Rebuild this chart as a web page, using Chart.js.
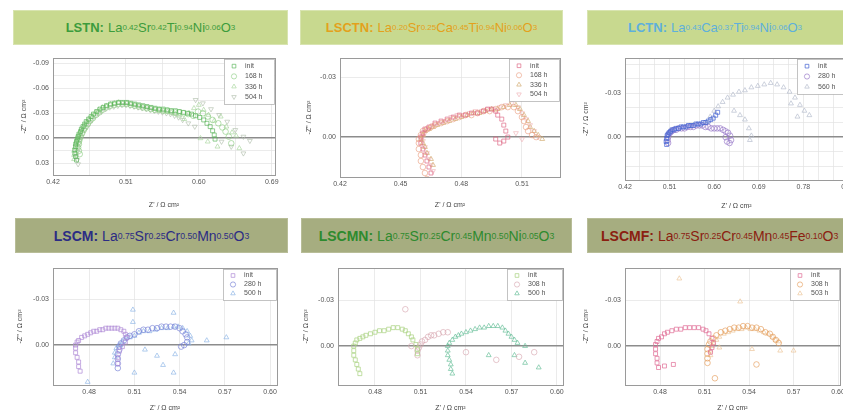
<!DOCTYPE html>
<html><head><meta charset="utf-8">
<script src="https://cdn.jsdelivr.net/npm/chart.js@4/dist/chart.umd.min.js"></script>
<style>
html,body{margin:0;padding:0;background:#fff;width:843px;height:412px;overflow:hidden;position:relative;font-family:"Liberation Sans",Arial,sans-serif;}
.hdr{position:absolute;display:flex;align-items:center;justify-content:center;white-space:nowrap;box-sizing:border-box;}
.top{background:#c8d98f;border:1px solid #d8e4b0;font-size:13px;}
.bot{background:#a6ad80;border:1px solid #b8bd98;font-size:14px;}
.hdr sub{font-size:62%;vertical-align:-0.35em;line-height:0;}
.hdr b{margin-right:4px;}
canvas{position:absolute;}
</style></head><body>
<div class="hdr top" style="left:13px;top:10px;width:275px;height:35px;color:#3c9c3c"><b>LSTN:</b>La<sub>0.42</sub>Sr<sub>0.42</sub>Ti<sub>0.94</sub>Ni<sub>0.06</sub>O<sub>3</sub></div>
<div class="hdr top" style="left:300px;top:10px;width:263px;height:35px;color:#e3a11c"><b>LSCTN:</b>La<sub>0.20</sub>Sr<sub>0.25</sub>Ca<sub>0.45</sub>Ti<sub>0.94</sub>Ni<sub>0.06</sub>O<sub>3</sub></div>
<div class="hdr top" style="left:587px;top:10px;width:270px;height:35px;color:#5eb0dc;justify-content:flex-start;padding-left:40px"><b>LCTN:</b>La<sub>0.43</sub>Ca<sub>0.37</sub>Ti<sub>0.94</sub>Ni<sub>0.06</sub>O<sub>3</sub></div>
<div class="hdr bot" style="left:15px;top:218px;width:273px;height:35px;color:#2c2c84"><b>LSCM:</b>La<sub>0.75</sub>Sr<sub>0.25</sub>Cr<sub>0.50</sub>Mn<sub>0.50</sub>O<sub>3</sub></div>
<div class="hdr bot" style="left:301px;top:218px;width:271px;height:35px;color:#2e8a2e"><b>LSCMN:</b>La<sub>0.75</sub>Sr<sub>0.25</sub>Cr<sub>0.45</sub>Mn<sub>0.50</sub>Ni<sub>0.05</sub>O<sub>3</sub></div>
<div class="hdr bot" style="left:587px;top:218px;width:270px;height:35px;color:#8b2010;justify-content:flex-start;padding-left:13px"><b>LSCMF:</b>La<sub>0.75</sub>Sr<sub>0.25</sub>Cr<sub>0.45</sub>Mn<sub>0.45</sub>Fe<sub>0.10</sub>O<sub>3</sub></div>
<canvas id="c1"></canvas><canvas id="c2"></canvas><canvas id="c3"></canvas>
<canvas id="c4"></canvas><canvas id="c5"></canvas><canvas id="c6"></canvas>
<script>
// ---------- DATA (Z' , Z'') in Ohm cm2 ----------
const lstnLabels = ['init','168 h','336 h','504 h'];
const lstnXTicks = ['0.42','0.51','0.60','0.69'];
const lstnYTicks = ['-0.09','-0.06','-0.03','0.00','0.03'];
const lstnInit = [[0.449,0.026],[0.448,0.022],[0.447,0.018],[0.447,0.014],[0.448,0.010],[0.448,0.007],[0.449,0.004],[0.450,0.001],[0.451,-0.002],[0.452,-0.005],[0.454,-0.008],[0.455,-0.011],[0.457,-0.014],[0.459,-0.017],[0.461,-0.020],[0.464,-0.023],[0.467,-0.026],[0.470,-0.029],[0.474,-0.032],[0.478,-0.035],[0.482,-0.037],[0.486,-0.039],[0.491,-0.041],[0.496,-0.042],[0.501,-0.043],[0.506,-0.043],[0.511,-0.043],[0.516,-0.042],[0.521,-0.041],[0.526,-0.040],[0.531,-0.039],[0.536,-0.038],[0.541,-0.037],[0.546,-0.036],[0.551,-0.035],[0.556,-0.035],[0.561,-0.034],[0.566,-0.033],[0.571,-0.033],[0.576,-0.032],[0.581,-0.031],[0.586,-0.030],[0.591,-0.029],[0.596,-0.027],[0.601,-0.025],[0.606,-0.022],[0.610,-0.018],[0.614,-0.014],[0.617,-0.009],[0.619,-0.004],[0.620,0.001]];
const lstn168 = [[0.453,0.019],[0.452,0.015],[0.451,0.011],[0.452,0.007],[0.452,0.004],[0.453,0.001],[0.454,-0.002],[0.456,-0.006],[0.458,-0.010],[0.460,-0.013],[0.463,-0.017],[0.466,-0.021],[0.469,-0.024],[0.473,-0.028],[0.477,-0.031],[0.481,-0.034],[0.486,-0.037],[0.491,-0.039],[0.496,-0.040],[0.501,-0.041],[0.506,-0.041],[0.511,-0.041],[0.516,-0.040],[0.521,-0.039],[0.526,-0.038],[0.531,-0.037],[0.536,-0.036],[0.541,-0.035],[0.546,-0.034],[0.551,-0.034],[0.556,-0.033],[0.561,-0.033],[0.566,-0.032],[0.571,-0.031],[0.576,-0.031],[0.581,-0.030],[0.587,-0.029],[0.593,-0.027],[0.599,-0.032],[0.605,-0.030],[0.611,-0.026],[0.617,-0.022],[0.624,-0.018],[0.629,-0.013],[0.633,-0.008],[0.637,-0.002],[0.640,0.006]];
const lstn336 = [[0.446,0.025],[0.446,0.020],[0.446,0.015],[0.447,0.011],[0.448,0.007],[0.449,0.003],[0.450,0.000],[0.451,-0.003],[0.453,-0.007],[0.455,-0.011],[0.458,-0.015],[0.461,-0.019],[0.464,-0.023],[0.468,-0.027],[0.472,-0.031],[0.476,-0.034],[0.481,-0.037],[0.486,-0.039],[0.491,-0.041],[0.496,-0.042],[0.501,-0.043],[0.506,-0.042],[0.511,-0.042],[0.516,-0.041],[0.521,-0.040],[0.526,-0.039],[0.531,-0.038],[0.536,-0.037],[0.541,-0.036],[0.546,-0.035],[0.551,-0.034],[0.556,-0.033],[0.561,-0.032],[0.566,-0.031],[0.571,-0.029],[0.576,-0.027],[0.582,-0.023],[0.588,-0.030],[0.594,-0.036],[0.600,-0.040],[0.606,-0.034],[0.612,-0.028],[0.619,-0.021],[0.627,-0.026],[0.634,-0.014],[0.641,-0.007],[0.646,-0.003],[0.650,0.012],[0.602,0.000],[0.611,0.004],[0.623,0.010]];
const lstn504 = [[0.451,0.031],[0.450,0.026],[0.449,0.021],[0.450,0.016],[0.451,0.011],[0.452,0.006],[0.453,0.002],[0.455,-0.002],[0.457,-0.006],[0.459,-0.010],[0.462,-0.014],[0.465,-0.018],[0.468,-0.022],[0.472,-0.026],[0.476,-0.029],[0.480,-0.032],[0.485,-0.035],[0.490,-0.037],[0.495,-0.038],[0.500,-0.039],[0.505,-0.040],[0.510,-0.040],[0.515,-0.039],[0.520,-0.038],[0.525,-0.037],[0.530,-0.036],[0.535,-0.035],[0.540,-0.034],[0.545,-0.033],[0.550,-0.032],[0.555,-0.031],[0.560,-0.030],[0.565,-0.029],[0.570,-0.027],[0.575,-0.025],[0.580,-0.022],[0.587,-0.018],[0.595,-0.014],[0.605,-0.042],[0.615,-0.035],[0.625,-0.028],[0.635,-0.020],[0.645,-0.010],[0.655,-0.002],[0.663,0.003],[0.640,0.010],[0.655,0.018],[0.628,0.004],[0.596,-0.046]];

const lsctnLabels = ['init','168 h','336 h','504 h'];
const lsctnXTicks = ['0.42','0.45','0.48','0.51'];
const lsctnYTicks = ['-0.03','0.00'];
const lsctnInit = [[0.465,0.018],[0.464,0.015],[0.463,0.012],[0.462,0.009],[0.461,0.006],[0.460,0.003],[0.460,0.000],[0.461,-0.002],[0.462,-0.004],[0.464,-0.005],[0.467,-0.007],[0.470,-0.008],[0.473,-0.009],[0.476,-0.010],[0.479,-0.011],[0.482,-0.011],[0.485,-0.012],[0.488,-0.012],[0.491,-0.013],[0.493,-0.014],[0.495,-0.014],[0.497,-0.013],[0.498,-0.011],[0.500,-0.009],[0.501,-0.006],[0.502,-0.003],[0.503,0.000],[0.501,0.002],[0.499,0.003],[0.497,0.001]];
const lsctn168 = [[0.463,0.021],[0.462,0.018],[0.461,0.015],[0.460,0.012],[0.460,0.009],[0.459,0.006],[0.459,0.003],[0.459,0.001],[0.460,-0.001],[0.461,-0.003],[0.463,-0.004],[0.465,-0.005],[0.467,-0.006],[0.470,-0.007],[0.473,-0.008],[0.476,-0.009],[0.479,-0.010],[0.482,-0.011],[0.485,-0.011],[0.488,-0.012],[0.491,-0.013],[0.494,-0.013],[0.497,-0.014],[0.500,-0.015],[0.503,-0.015],[0.506,-0.015],[0.508,-0.013],[0.510,-0.010],[0.511,-0.008],[0.512,-0.005],[0.513,-0.003],[0.515,-0.001],[0.517,0.000]];
const lsctn336 = [[0.466,0.014],[0.465,0.011],[0.463,0.008],[0.462,0.005],[0.461,0.003],[0.460,0.001],[0.461,-0.001],[0.462,-0.003],[0.464,-0.004],[0.466,-0.005],[0.468,-0.006],[0.471,-0.007],[0.474,-0.008],[0.477,-0.009],[0.480,-0.010],[0.483,-0.011],[0.486,-0.012],[0.489,-0.012],[0.492,-0.013],[0.495,-0.014],[0.498,-0.014],[0.501,-0.015],[0.504,-0.016],[0.507,-0.016],[0.509,-0.014],[0.511,-0.011],[0.513,-0.008],[0.514,-0.005],[0.516,-0.003],[0.518,-0.001],[0.520,0.001]];
const lsctn504 = [[0.467,0.021],[0.466,0.017],[0.465,0.014],[0.464,0.011],[0.463,0.008],[0.462,0.005],[0.461,0.002],[0.461,0.000],[0.462,-0.002],[0.464,-0.004],[0.466,-0.006],[0.469,-0.007],[0.472,-0.008],[0.475,-0.010],[0.478,-0.011],[0.481,-0.011],[0.484,-0.012],[0.487,-0.013],[0.490,-0.013],[0.493,-0.014],[0.496,-0.014],[0.499,-0.015],[0.502,-0.016],[0.505,-0.017],[0.508,-0.015],[0.510,-0.012],[0.512,-0.009],[0.514,-0.006],[0.516,-0.003],[0.518,0.000],[0.510,0.001],[0.507,-0.002]];

const lctnLabels = ['init','280 h','560 h'];
const lctnXTicks = ['0.42','0.51','0.60','0.69','0.78','0.87'];
const lctnYTicks = ['-0.03','0.00'];
const lctnInit = [[0.504,0.005],[0.503,0.003],[0.504,0.001],[0.505,-0.001],[0.507,-0.002],[0.509,-0.003],[0.512,-0.004],[0.515,-0.005],[0.519,-0.005],[0.523,-0.006],[0.528,-0.006],[0.533,-0.007],[0.538,-0.007],[0.543,-0.007],[0.548,-0.008],[0.553,-0.008],[0.558,-0.008],[0.563,-0.009],[0.568,-0.009],[0.573,-0.009],[0.578,-0.010],[0.583,-0.010],[0.588,-0.011],[0.593,-0.012],[0.598,-0.013],[0.603,-0.015],[0.607,-0.017]];
const lctn280 = [[0.507,0.004],[0.506,0.002],[0.507,0.000],[0.508,-0.002],[0.511,-0.003],[0.514,-0.004],[0.518,-0.005],[0.523,-0.005],[0.528,-0.006],[0.534,-0.006],[0.540,-0.006],[0.546,-0.007],[0.552,-0.007],[0.558,-0.007],[0.564,-0.008],[0.570,-0.008],[0.576,-0.008],[0.582,-0.007],[0.588,-0.007],[0.594,-0.006],[0.600,-0.006],[0.606,-0.006],[0.612,-0.006],[0.618,-0.005],[0.623,-0.004],[0.628,-0.003],[0.632,-0.001],[0.634,0.002],[0.631,0.004],[0.626,0.003],[0.623,0.000]];
const lctn560 = [[0.585,-0.010],[0.592,-0.014],[0.600,-0.018],[0.608,-0.021],[0.617,-0.024],[0.627,-0.027],[0.638,-0.029],[0.650,-0.031],[0.662,-0.032],[0.675,-0.034],[0.688,-0.035],[0.701,-0.036],[0.714,-0.037],[0.727,-0.036],[0.740,-0.034],[0.752,-0.031],[0.763,-0.027],[0.773,-0.022],[0.782,-0.018],[0.792,-0.015],[0.640,-0.018],[0.652,-0.015],[0.662,-0.012],[0.670,-0.006],[0.675,-0.001],[0.672,0.002],[0.755,-0.023],[0.768,-0.014]];

const lscmLabels = ['init','280 h','500 h'];
const lscmXTicks = ['0.48','0.51','0.54','0.57','0.60'];
const lscmYTicks = ['-0.03','0.00'];
const lscmInit = [[0.474,0.017],[0.473,0.014],[0.473,0.011],[0.472,0.008],[0.471,0.005],[0.471,0.002],[0.471,0.000],[0.472,-0.002],[0.473,-0.003],[0.475,-0.005],[0.477,-0.006],[0.479,-0.007],[0.481,-0.008],[0.483,-0.009],[0.485,-0.009],[0.487,-0.010],[0.489,-0.010],[0.491,-0.011],[0.493,-0.011],[0.495,-0.011],[0.497,-0.011],[0.499,-0.011],[0.501,-0.010],[0.503,-0.009],[0.504,-0.007],[0.505,-0.005],[0.504,-0.002],[0.502,0.001],[0.500,0.004],[0.499,0.008],[0.499,0.012]];
const lscm280 = [[0.499,0.015],[0.499,0.012],[0.499,0.009],[0.499,0.006],[0.500,0.003],[0.500,0.001],[0.501,-0.001],[0.503,-0.003],[0.505,-0.005],[0.507,-0.006],[0.510,-0.007],[0.513,-0.009],[0.516,-0.010],[0.519,-0.010],[0.522,-0.011],[0.525,-0.011],[0.528,-0.012],[0.531,-0.012],[0.534,-0.012],[0.537,-0.012],[0.540,-0.011],[0.542,-0.009],[0.544,-0.007],[0.545,-0.005],[0.545,-0.002],[0.543,0.000],[0.541,0.001]];
const lscm500 = [[0.496,0.012],[0.497,0.008],[0.497,0.005],[0.498,0.002],[0.500,0.000],[0.502,-0.002],[0.504,-0.004],[0.507,-0.005],[0.510,-0.006],[0.513,-0.008],[0.516,-0.009],[0.520,-0.009],[0.524,-0.010],[0.528,-0.011],[0.532,-0.011],[0.536,-0.012],[0.539,-0.012],[0.542,-0.011],[0.545,-0.009],[0.547,-0.006],[0.548,-0.003],[0.546,-0.001],[0.509,-0.023],[0.509,-0.015],[0.536,-0.021],[0.571,-0.005],[0.558,-0.003],[0.525,0.007],[0.529,0.013],[0.536,0.018],[0.510,0.018],[0.479,0.024],[0.517,0.003],[0.537,0.006]];

const lscmnLabels = ['init','308 h','500 h'];
const lscmnXTicks = ['0.48','0.51','0.54','0.57','0.60'];
const lscmnYTicks = ['-0.03','0.00'];
const lscmnInit = [[0.470,0.018],[0.469,0.015],[0.468,0.012],[0.467,0.009],[0.466,0.006],[0.466,0.003],[0.466,0.000],[0.467,-0.002],[0.468,-0.004],[0.470,-0.005],[0.472,-0.006],[0.474,-0.007],[0.477,-0.008],[0.480,-0.009],[0.483,-0.010],[0.486,-0.010],[0.489,-0.011],[0.492,-0.012],[0.495,-0.012],[0.498,-0.011],[0.500,-0.010],[0.502,-0.008],[0.504,-0.006],[0.505,-0.004],[0.507,-0.001],[0.508,0.002],[0.508,0.005]];
const lscmn308 = [[0.508,0.006],[0.508,0.003],[0.509,0.001],[0.510,-0.001],[0.511,-0.003],[0.513,-0.004],[0.515,-0.006],[0.517,-0.007],[0.519,-0.007],[0.522,-0.008],[0.525,-0.009],[0.528,-0.009],[0.500,-0.024],[0.504,0.000],[0.540,0.004],[0.560,0.009],[0.575,0.007],[0.585,0.004]];
const lscmn500 = [[0.531,0.018],[0.530,0.015],[0.530,0.012],[0.529,0.009],[0.528,0.006],[0.528,0.003],[0.528,0.000],[0.529,-0.002],[0.531,-0.004],[0.533,-0.006],[0.535,-0.007],[0.537,-0.008],[0.540,-0.009],[0.543,-0.010],[0.546,-0.011],[0.549,-0.012],[0.552,-0.012],[0.555,-0.013],[0.558,-0.013],[0.561,-0.013],[0.564,-0.012],[0.566,-0.010],[0.568,-0.008],[0.570,-0.006],[0.572,-0.004],[0.574,-0.002],[0.555,0.006],[0.572,0.006],[0.579,0.011],[0.588,0.014],[0.579,0.000]];

const lscmfLabels = ['init','308 h','503 h'];
const lscmfXTicks = ['0.48','0.51','0.54','0.57','0.60'];
const lscmfYTicks = ['-0.03','0.00'];
const lscmfInit = [[0.479,0.014],[0.478,0.011],[0.478,0.008],[0.477,0.005],[0.477,0.002],[0.477,-0.001],[0.478,-0.003],[0.479,-0.005],[0.481,-0.006],[0.483,-0.008],[0.485,-0.009],[0.488,-0.010],[0.491,-0.011],[0.494,-0.011],[0.497,-0.012],[0.500,-0.012],[0.503,-0.012],[0.506,-0.012],[0.509,-0.011],[0.511,-0.010],[0.513,-0.008],[0.515,-0.005],[0.516,-0.002],[0.515,0.001],[0.514,0.004],[0.489,0.012],[0.483,0.013]];
const lscmf308 = [[0.512,0.011],[0.512,0.008],[0.512,0.005],[0.512,0.002],[0.513,-0.001],[0.514,-0.003],[0.516,-0.005],[0.518,-0.007],[0.521,-0.009],[0.524,-0.010],[0.527,-0.011],[0.530,-0.012],[0.533,-0.012],[0.536,-0.013],[0.539,-0.013],[0.542,-0.012],[0.545,-0.012],[0.548,-0.011],[0.551,-0.009],[0.554,-0.008],[0.556,-0.006],[0.558,-0.004],[0.560,-0.002],[0.517,0.021],[0.545,0.012]];
const lscmf503 = [[0.514,0.006],[0.514,0.003],[0.515,0.000],[0.516,-0.002],[0.518,-0.004],[0.520,-0.006],[0.523,-0.008],[0.526,-0.009],[0.529,-0.010],[0.532,-0.011],[0.535,-0.011],[0.538,-0.012],[0.541,-0.011],[0.544,-0.011],[0.547,-0.010],[0.550,-0.009],[0.553,-0.008],[0.556,-0.006],[0.558,-0.004],[0.560,-0.003],[0.493,-0.044],[0.534,-0.029],[0.520,0.001],[0.570,0.003],[0.542,0.002],[0.561,0.003]];

// ---------- STYLES / LAYOUT ----------
const shapes = [{s:'rect',r:0},{s:'circle',r:0},{s:'triangle',r:0},{s:'triangle',r:180}];
const FONT = '"Liberation Sans", Arial, sans-serif';
const panels = [
 {id:'c1', canvas:[0,50,285,160], plot:[53,58,275,175], xr:[0.42,0.694], yr:[-0.096,0.044], xT:lstnXTicks, xSub:2, yT:lstnYTicks, ySub:2, yTitlePad:20, xTitlePad:1,
  series:[lstnInit,lstn168,lstn336,lstn504], labels:lstnLabels, colors:['rgba(90,180,90,0.75)','rgba(140,205,130,0.7)','rgba(170,215,160,0.75)','rgba(175,190,170,0.7)'], lg:[50,45]},
 {id:'c2', canvas:[285,50,285,160], plot:[340,58,560,177], xr:[0.42,0.5288], yr:[-0.0395,0.02], xT:lsctnXTicks, xSub:1, yT:lsctnYTicks, ySub:1, yTitlePad:20, xTitlePad:1,
  series:[lsctnInit,lsctn168,lsctn336,lsctn504], labels:lsctnLabels, colors:['rgba(220,100,130,0.75)','rgba(235,160,130,0.7)','rgba(210,170,110,0.75)','rgba(240,180,185,0.75)'], lg:[50,42]},
 {id:'c3', canvas:[560,50,300,160], plot:[625,58,848,180], xr:[0.42,0.87], yr:[-0.054,0.0293], xT:lctnXTicks, xSub:3, yT:lctnYTicks, ySub:3, yTitlePad:22, xTitlePad:0,
  series:[lctnInit,lctn280,lctn560], labels:lctnLabels, colors:['rgba(70,100,210,0.8)','rgba(150,120,200,0.75)','rgba(180,188,205,0.75)'], lg:[50,35]},
 {id:'c4', canvas:[0,258,285,154], plot:[53,268,277,385], xr:[0.456,0.6046], yr:[-0.0502,0.026], xT:lscmXTicks, xSub:1, yT:lscmYTicks, ySub:1, yTitlePad:16, xTitlePad:0,
  series:[lscmInit,lscm280,lscm500], labels:lscmLabels, colors:['rgba(175,140,215,0.8)','rgba(120,130,215,0.75)','rgba(140,180,230,0.75)'], lg:[53,31]},
 {id:'c5', canvas:[285,258,285,154], plot:[338,268,563,385], xr:[0.4556,0.604], yr:[-0.0509,0.0254], xT:lscmnXTicks, xSub:1, yT:lscmnYTicks, ySub:1, yTitlePad:17, xTitlePad:0,
  series:[lscmnInit,lscmn308,lscmn500], labels:lscmnLabels, colors:['rgba(170,210,130,0.8)','rgba(215,165,175,0.7)','rgba(100,190,150,0.75)'], lg:[55,31]},
 {id:'c6', canvas:[560,258,300,154], plot:[625,268,840,385], xr:[0.4564,0.6013], yr:[-0.0509,0.0254], xT:lscmfXTicks, xSub:1, yT:lscmfYTicks, ySub:1, yTitlePad:22, xTitlePad:0,
  series:[lscmfInit,lscmf308,lscmf503], labels:lscmfLabels, colors:['rgba(225,110,150,0.8)','rgba(230,160,95,0.75)','rgba(235,195,150,0.75)'], lg:[49,31]}
];

function gridVals(labels, sub, lo, hi){
  const nums = labels.map(Number);
  const step = (nums[1]-nums[0])/sub;
  const out = [];
  for (let v = nums[0]; v >= lo - 1e-9; v -= step) out.push(v);
  for (let v = nums[0]+step; v <= hi + 1e-9; v += step) out.push(v);
  return out.sort((a,b)=>a-b);
}
function labelFor(labels, v){
  for (const l of labels) if (Math.abs(Number(l)-v) < 1e-7) return l;
  return '';
}

const frame = {
  id:'frame',
  afterDatasetsDraw(chart){
    const {ctx, chartArea:a} = chart;
    ctx.save(); ctx.strokeStyle='#9a9a9a'; ctx.lineWidth=1;
    ctx.strokeRect(Math.round(a.left)+0.5, Math.round(a.top)+0.5, Math.round(a.right-a.left), Math.round(a.bottom-a.top));
    ctx.restore();
  }
};
const innerLegend = {
  id:'innerLegend',
  afterDraw(chart, args, opts){
    const {ctx, chartArea:a} = chart;
    const ds = chart.data.datasets;
    const w = opts.w, h = opts.h;
    const x0 = Math.round(a.right - w - 1), y0 = Math.round(a.top + 1);
    ctx.save();
    ctx.fillStyle='#fff'; ctx.fillRect(x0,y0,w,h);
    ctx.strokeStyle='#b5b5b5'; ctx.lineWidth=0.8; ctx.strokeRect(x0+0.5,y0+0.5,w,h);
    const step = (h-4)/ds.length;
    ds.forEach((d,i)=>{
      const cy = y0 + 2 + step*(i+0.5);
      ctx.strokeStyle = d.borderColor; ctx.fillStyle='rgba(0,0,0,0)'; ctx.lineWidth = 0.9;
      Chart.helpers.drawPoint(ctx, {pointStyle:d.pointStyle, radius:2.6, borderWidth:0.9, rotation:d.rotation||0}, x0+10, cy);
      ctx.fillStyle='#555'; ctx.font='7px '+FONT; ctx.textBaseline='middle'; ctx.textAlign='left';
      ctx.fillText(d.label, x0+21, cy);
    });
    ctx.restore();
  }
};

panels.forEach(p=>{
  const cv = document.getElementById(p.id);
  const [cx,cy,cw,ch] = p.canvas;
  cv.width = cw; cv.height = ch;
  cv.style.left = cx+'px'; cv.style.top = cy+'px'; cv.style.width = cw+'px'; cv.style.height = ch+'px';
  const [px0,py0,px1,py1] = p.plot;
  const yW = px0 - cx, xH = cy + ch - py1;
  const xg = gridVals(p.xT, p.xSub, p.xr[0], p.xr[1]);
  const yg = gridVals(p.yT, p.ySub, p.yr[0], p.yr[1]);
  const gridColor = c => (c.tick && Math.abs(c.tick.value) < 1e-9) ? '#8c8c8c' : '#e3e3e3';
  new Chart(cv, {
    type:'scatter',
    data:{datasets: p.series.map((s,i)=>({
      label:p.labels[i],
      data:s.map(d=>({x:d[0],y:d[1]})),
      pointStyle:shapes[i].s, rotation:shapes[i].r,
      borderColor:p.colors[i], backgroundColor:'rgba(0,0,0,0)',
      pointRadius:2.8, pointBorderWidth:0.9, showLine:false
    }))},
    options:{
      responsive:false, animation:false, devicePixelRatio:1,
      layout:{padding:{top:py0-cy, right:cx+cw-px1, left:0, bottom:0}},
      plugins:{legend:{display:false}, tooltip:{enabled:false}, innerLegend:{w:p.lg[0], h:p.lg[1]}},
      scales:{
        x:{type:'linear', min:p.xr[0], max:p.xr[1],
           afterBuildTicks:s=>{s.ticks = xg.map(v=>({value:v}));},
           afterFit:s=>{s.height = xH;},
           ticks:{autoSkip:false, maxRotation:0, padding:3, color:'#555', font:{size:7, family:FONT}, callback:v=>labelFor(p.xT, v)},
           grid:{color:'#e3e3e3', lineWidth:0.7, drawTicks:false},
           border:{display:false},
           title:{display:true, text:"Z' / \u03a9 cm\u00b2", color:'#444', font:{size:7, family:FONT}, padding:{top:0,bottom:p.xTitlePad}}
        },
        y:{type:'linear', reverse:true, min:p.yr[0], max:p.yr[1],
           afterBuildTicks:s=>{s.ticks = yg.map(v=>({value:v}));},
           afterFit:s=>{s.width = yW;},
           ticks:{autoSkip:false, padding:4, color:'#555', font:{size:7, family:FONT}, callback:v=>labelFor(p.yT, v)},
           grid:{color:gridColor, lineWidth:c=>(c.tick && Math.abs(c.tick.value)<1e-9)?1.6:0.7, drawTicks:false},
           border:{display:false},
           title:{display:true, text:"-Z'' / \u03a9 cm\u00b2", color:'#444', font:{size:7, family:FONT}, padding:{top:p.yTitlePad,bottom:0}}
        }
      }
    },
    plugins:[frame, innerLegend]
  });
});
</script>
</body></html>
